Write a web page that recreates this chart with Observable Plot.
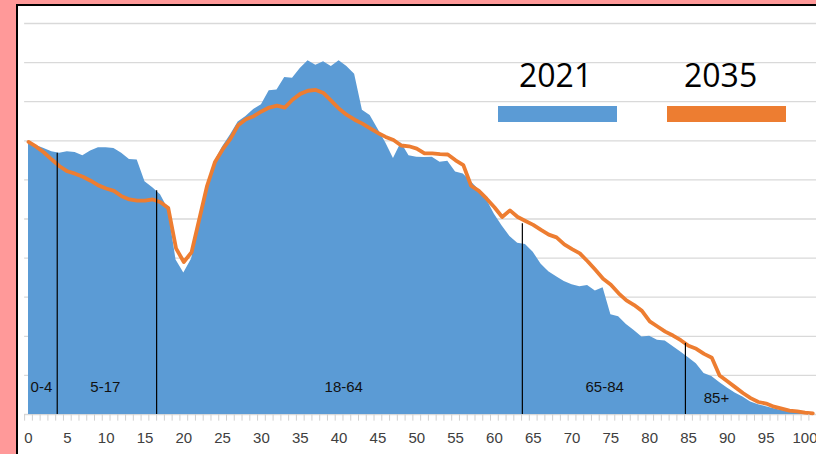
<!DOCTYPE html>
<html>
<head>
<meta charset="utf-8">
<script src="https://cdn.jsdelivr.net/npm/d3@7"></script>
<script src="https://cdn.jsdelivr.net/npm/@observablehq/plot@0.6"></script>
<style>
  html, body { margin: 0; padding: 0; }
  body { width: 816px; height: 454px; overflow: hidden; position: relative; background: #FF9999; }
  #panel { position: absolute; left: 16px; top: 4px; width: 820px; height: 470px; background: #fff;
           border-left: 2px solid #000; border-top: 2px solid #000; }
  #chart { position: absolute; left: 0; top: 0; }
  #chart svg { background: transparent; }
  .leg { position: absolute; font-family: "Open Sans", sans-serif; font-size: 32px; line-height: 32px; color: #000; }
  .sw { position: absolute; height: 16px; }
</style>
</head>
<body>
<div id="panel"></div>
<div id="chart"></div>
<div class="leg" id="l1" style="left:519px; top:58.6px;">2021</div>
<div class="sw" id="s1" style="left:498px; top:106px; width:119px; background:#5B9BD5;"></div>
<div class="leg" id="l2" style="left:684px; top:58.6px;">2035</div>
<div class="sw" id="s2" style="left:667px; top:106px; width:119px; background:#ED7D31;"></div>
<script>
// Ages 0..101
const ages = d3.range(0, 102);

// Population by single year of age, 2021 (blue area) — relative units (gridline = 1)
const pop2021 = [
  6.96, 6.88, 6.80, 6.72, 6.68, 6.72, 6.70, 6.62, 6.74, 6.82,
  6.82, 6.80, 6.68, 6.52, 6.51, 5.95, 5.80, 5.62, 5.25, 3.95,
  3.62, 3.98, 4.90, 5.75, 6.48, 6.85, 7.15, 7.48, 7.62, 7.80,
  7.92, 8.28, 8.30, 8.62, 8.60, 8.85, 9.05, 8.93, 9.02, 8.90,
  9.05, 8.90, 8.70, 7.78, 7.65, 7.30, 6.95, 6.55, 6.95, 6.62,
  6.58, 6.57, 6.58, 6.45, 6.48, 6.20, 6.15, 5.95, 5.75, 5.50,
  5.12, 4.82, 4.55, 4.38, 4.35, 4.15, 3.85, 3.65, 3.52, 3.40,
  3.32, 3.27, 3.30, 3.16, 3.24, 2.55, 2.50, 2.30, 2.15, 1.98,
  2.00, 1.90, 1.88, 1.74, 1.60, 1.45, 1.30, 1.05, 0.97, 0.82,
  0.68, 0.55, 0.45, 0.32, 0.25, 0.20, 0.15, 0.10, 0.07, 0.04,
  0.02, 0.01
];

// Projected population, 2035 (orange line)
const pop2035 = [
  6.97, 6.85, 6.70, 6.52, 6.35, 6.22, 6.16, 6.08, 5.98, 5.86,
  5.78, 5.72, 5.58, 5.50, 5.47, 5.47, 5.50, 5.43, 5.28, 4.25,
  3.90, 4.15, 5.00, 5.85, 6.45, 6.78, 7.05, 7.40, 7.55, 7.63,
  7.75, 7.85, 7.90, 7.85, 8.05, 8.20, 8.28, 8.30, 8.22, 8.02,
  7.82, 7.66, 7.54, 7.44, 7.32, 7.20, 7.10, 7.02, 6.88, 6.86,
  6.80, 6.68, 6.68, 6.66, 6.65, 6.50, 6.38, 5.85, 5.72, 5.52,
  5.30, 5.05, 5.22, 5.05, 4.95, 4.85, 4.72, 4.60, 4.53, 4.35,
  4.23, 4.12, 3.92, 3.70, 3.47, 3.32, 3.10, 2.92, 2.80, 2.65,
  2.38, 2.25, 2.12, 2.02, 1.90, 1.76, 1.68, 1.55, 1.45, 1.00,
  0.85, 0.70, 0.55, 0.42, 0.32, 0.28, 0.20, 0.15, 0.10, 0.08,
  0.05, 0.03
];

// Age-group dividers and labels
const dividerAges = [3.7, 16.5, 63.6, 84.6];
const dividerTops = [6.68, 5.72, 4.88, 1.82];
const groupLabels = ["0-4", "5-17", "18-64", "65-84", "85+"];
const groupLabelAges = [1.67, 9.9, 40.6, 74.2, 88.6];
const groupLabelLevels = [0.70, 0.70, 0.70, 0.70, 0.41];

// Axis ticks
const xTickLabels = d3.range(0, 101, 5);
const minorTicks = d3.range(-0.5, 101, 1);
const gridLevels = d3.range(0, 11, 1);

const data = ages.map((a, i) => ({age: a, v2021: pop2021[i], v2035: pop2035[i]}));
const dividers = dividerAges.map((a, i) => ({age: a, top: dividerTops[i]}));
const labels = groupLabels.map((t, i) => ({text: t, age: groupLabelAges[i], level: groupLabelLevels[i]}));

const fam = '"Liberation Sans", Arial, sans-serif';

const chart = Plot.plot({
  width: 816,
  height: 454,
  marginLeft: 28,
  marginRight: 11.5,
  marginTop: 23,
  marginBottom: 40,
  style: {background: "transparent"},
  x: {domain: [0, 100], axis: null, label: null},
  y: {domain: [0, 10], axis: null, label: null},
  marks: [
    Plot.ruleY(gridLevels, {y: d => d, x1: -0.5, x2: 101.5, stroke: "#d9d9d9", strokeWidth: 1.3}),
    Plot.areaY(data, {x: "age", y: "v2021", fill: "#5B9BD5"}),
    Plot.lineY(data, {x: "age", y: "v2035", stroke: "#ED7D31", strokeWidth: 3.8, strokeLinejoin: "round"}),
    Plot.ruleX(dividers, {x: "age", y1: 0, y2: "top", stroke: "#000", strokeWidth: 1.2}),
    Plot.ruleX(minorTicks, {x: d => d, y1: 0, y2: -0.17, stroke: "#d0d0d0", strokeWidth: 1}),
    Plot.text(labels, {x: "age", y: "level", text: "text", fill: "#111", fontSize: 15, fontFamily: fam}),
    Plot.axisX(xTickLabels, {tickSize: 0, tickPadding: 18, fontSize: 15, fontFamily: fam, fill: "#404040", label: null, tickFormat: d => String(d)})
  ]
});
document.getElementById("chart").appendChild(chart);
</script>
</body>
</html>
